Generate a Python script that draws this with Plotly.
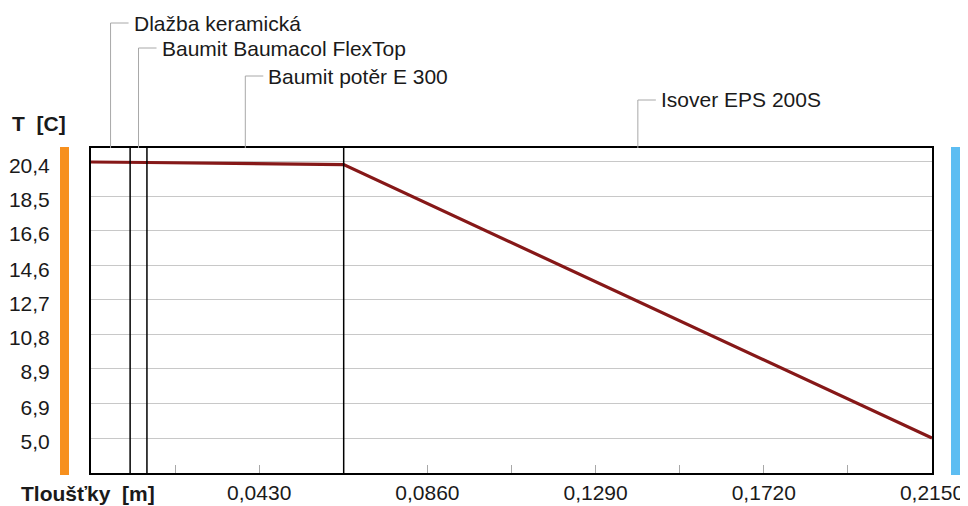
import plotly.graph_objects as go

# ---- data ----
layer_names = ["Dlažba keramická", "Baumit Baumacol FlexTop", "Baumit potěr E 300", "Isover EPS 200S"]
layer_bounds = [0.0, 0.0100, 0.0143, 0.0646, 0.2150]   # m
profile_x = [0.0, 0.0100, 0.0143, 0.0646, 0.2150]       # m
profile_T = [20.40, 20.39, 20.37, 20.25, 5.00]          # °C
y_ticks = [5.0, 6.9, 8.9, 10.8, 12.7, 14.6, 16.6, 18.5, 20.4]
y_tick_labels = ["5,0", "6,9", "8,9", "10,8", "12,7", "14,6", "16,6", "18,5", "20,4"]
x_ticks = [0.0215 * i for i in range(11)]
x_tick_labels = ["" if (i % 2 == 1 or i == 0) else f"{0.0215*i:.4f}".replace(".", ",") for i in range(11)]
label_y_px = [23, 48, 76, 100]

# page has an 8px body margin: work in page pixels, convert to figure pixels
OFF = 8
W, H = 968 - OFF, 506 - OFF
L, R, T, B = 91 - OFF, 932 - OFF, 148 - OFF, 473 - OFF

def py(p):
    return (B - (p - OFF)) / (B - T)

def px(p):
    return ((p - OFF) - L) / (R - L)

FONT = "Liberation Sans, Arial, sans-serif"
TXT = "#1a1a1a"

fig = go.Figure()
fig.add_trace(go.Scatter(x=profile_x, y=profile_T, mode="lines",
                         line=dict(color="#861818", width=3.2), hoverinfo="skip"))

shapes = []
# layer boundary lines
for b in layer_bounds[1:-1]:
    shapes.append(dict(type="line", xref="x", yref="paper", x0=b, x1=b, y0=0, y1=1,
                       line=dict(color="black", width=1.5), layer="above"))

annotations = []
for i, name in enumerate(layer_names):
    mid = (layer_bounds[i] + layer_bounds[i + 1]) / 2
    yl = py(label_y_px[i])
    shapes.append(dict(type="line", xref="x", yref="paper", x0=mid, x1=mid, y0=1, y1=yl,
                       line=dict(color="#A8A8A8", width=1)))
    shapes.append(dict(type="line", xref="x", yref="paper", xsizemode="pixel", xanchor=mid,
                       x0=0, x1=18, y0=yl, y1=yl, line=dict(color="#A8A8A8", width=1)))
    annotations.append(dict(text=name, xref="x", yref="paper", x=mid, y=yl, xshift=21,
                            xanchor="left", yanchor="middle", showarrow=False,
                            font=dict(family=FONT, size=21, color=TXT)))

# side colour bars
shapes.append(dict(type="rect", xref="paper", yref="paper", x0=px(60), x1=px(69),
                   y0=py(475), y1=py(147), fillcolor="#F7901E", line=dict(width=0)))
shapes.append(dict(type="rect", xref="paper", yref="paper", x0=px(951), x1=px(962),
                   y0=py(475), y1=py(147), fillcolor="#5DBDF2", line=dict(width=0)))

annotations.append(dict(text="<b>T  [C]</b>", xref="paper", yref="paper", x=px(10), y=py(123),
                        xanchor="left", yanchor="middle", showarrow=False,
                        font=dict(family=FONT, size=21, color=TXT)))
annotations.append(dict(text="<b>Tloušťky  [m]</b>", xref="paper", yref="paper", x=px(157), y=py(493),
                        xanchor="right", yanchor="middle", showarrow=False,
                        font=dict(family=FONT, size=21, color=TXT)))

fig.update_layout(
    width=W, height=H,
    margin=dict(l=L, r=W - R, t=T, b=H - B),
    paper_bgcolor="white", plot_bgcolor="white",
    showlegend=False,
    shapes=shapes, annotations=annotations,
    font=dict(family=FONT, size=21, color=TXT),
    xaxis=dict(range=[0, 0.215], tickvals=x_ticks, ticktext=x_tick_labels,
               ticks="inside", ticklen=8, tickcolor="#A8A8A8", tickwidth=1,
               showgrid=False, zeroline=False, showline=True, linecolor="black",
               linewidth=2, mirror=True, automargin=False,
               tickfont=dict(size=21, color=TXT)),
    yaxis=dict(range=[3.047, 21.18], tickvals=y_ticks, ticktext=y_tick_labels,
               ticks="outside", ticklen=35, tickcolor="rgba(0,0,0,0)",
               showgrid=True, gridcolor="#C8C8C8", gridwidth=1, zeroline=False,
               showline=True, linecolor="black", linewidth=2, mirror=True,
               automargin=False, ticklabelshift=4,
               tickfont=dict(size=21, color=TXT)),
)

fig.write_html("out.html")
